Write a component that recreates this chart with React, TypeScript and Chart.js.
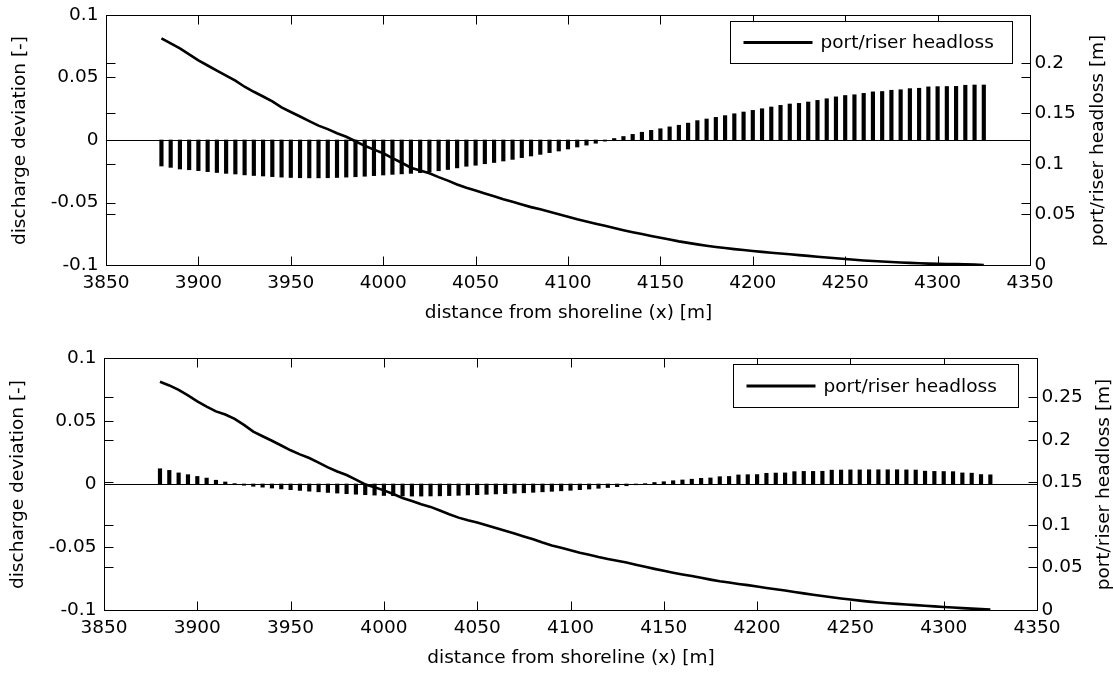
import React, { useEffect, useRef } from "react";
import { Chart, registerables } from "chart.js";

Chart.register(...registerables);

// ---------- data ----------
const portX = [
  3880, 3885, 3890, 3895, 3900, 3905, 3910, 3915, 3920, 3925,
  3930, 3935, 3940, 3945, 3950, 3955, 3960, 3965, 3970, 3975,
  3980, 3985, 3990, 3995, 4000, 4005, 4010, 4015, 4020, 4025,
  4030, 4035, 4040, 4045, 4050, 4055, 4060, 4065, 4070, 4075,
  4080, 4085, 4090, 4095, 4100, 4105, 4110, 4115, 4120, 4125,
  4130, 4135, 4140, 4145, 4150, 4155, 4160, 4165, 4170, 4175,
  4180, 4185, 4190, 4195, 4200, 4205, 4210, 4215, 4220, 4225,
  4230, 4235, 4240, 4245, 4250, 4255, 4260, 4265, 4270, 4275,
  4280, 4285, 4290, 4295, 4300, 4305, 4310, 4315, 4320, 4325,
];

const deviationTop = [
  -0.0208, -0.0219, -0.0232, -0.0238, -0.0245, -0.0253, -0.026, -0.0267, -0.0272, -0.0279,
  -0.0284, -0.0288, -0.0293, -0.0297, -0.03, -0.0302, -0.0303, -0.0303, -0.0302, -0.03,
  -0.0297, -0.0294, -0.029, -0.0285, -0.028, -0.0275, -0.0271, -0.0267, -0.0261, -0.0255,
  -0.0246, -0.0236, -0.0223, -0.021, -0.0202, -0.019, -0.018, -0.0168, -0.0155, -0.0141,
  -0.0128, -0.0115, -0.0101, -0.0088, -0.0072, -0.0056, -0.0041, -0.0026, -0.0009, 0.0012,
  0.0028, 0.0045, 0.0062, 0.0077, 0.009, 0.0105, 0.0118, 0.0135, 0.0155, 0.0168,
  0.0181, 0.0195, 0.021, 0.0224, 0.0237, 0.025, 0.0264, 0.0277, 0.0288, 0.0293,
  0.0304, 0.0317, 0.033, 0.0345, 0.0356, 0.0362, 0.0373, 0.0385, 0.0388, 0.0398,
  0.0402, 0.0411, 0.0414, 0.0425, 0.0427, 0.0428, 0.0429, 0.0438, 0.044, 0.044,
];

const headlossTop = [
  0.2244, 0.2195, 0.2145, 0.2085, 0.2025, 0.1975, 0.1925, 0.1875, 0.1825, 0.1765,
  0.1715, 0.1668, 0.162, 0.156, 0.1515, 0.147, 0.1425, 0.138, 0.1345, 0.1305,
  0.127, 0.1225, 0.118, 0.1142, 0.1106, 0.1058, 0.1012, 0.0963, 0.0935, 0.0908,
  0.087, 0.0835, 0.0797, 0.0765, 0.0737, 0.0708, 0.068, 0.0652, 0.0627, 0.06,
  0.0573, 0.0551, 0.0527, 0.0503, 0.0478, 0.0452, 0.043, 0.0408, 0.0388, 0.0367,
  0.0345, 0.0325, 0.0306, 0.0288, 0.027, 0.0252, 0.0234, 0.0219, 0.0204, 0.0191,
  0.0179, 0.0168, 0.0157, 0.0148, 0.0139, 0.013, 0.0122, 0.0114, 0.0106, 0.0098,
  0.009, 0.0082, 0.0075, 0.0067, 0.006, 0.0052, 0.0045, 0.0039, 0.0034, 0.0029,
  0.0025, 0.0021, 0.0017, 0.0014, 0.0012, 0.001, 0.0009, 0.0007, 0.0005, 0.0,
];

const deviationBottom = [
  0.0121, 0.0108, 0.0088, 0.0074, 0.006, 0.0047, 0.003, 0.0016, 0.0003, -0.001,
  -0.0018, -0.0025, -0.0032, -0.0039, -0.0045, -0.0051, -0.0057, -0.0062, -0.0067, -0.0072,
  -0.0077, -0.0081, -0.0085, -0.0088, -0.0091, -0.0093, -0.0095, -0.0096, -0.0096, -0.0095,
  -0.0094, -0.0092, -0.009, -0.0087, -0.0085, -0.0082, -0.0079, -0.0076, -0.0073, -0.007,
  -0.0066, -0.0062, -0.0058, -0.0054, -0.005, -0.0045, -0.004, -0.0034, -0.0028, -0.0021,
  -0.0014, -0.0006, 0.0003, 0.0012, 0.0018, 0.0026, 0.0032, 0.0038, 0.0045, 0.0048,
  0.0058, 0.006, 0.0072, 0.0074, 0.0075, 0.0085, 0.0087, 0.0088, 0.0098, 0.01,
  0.01, 0.0101, 0.011, 0.0111, 0.0112, 0.0112, 0.0113, 0.0113, 0.0113, 0.0113,
  0.0112, 0.0111, 0.0102, 0.01, 0.0099, 0.0098, 0.0088, 0.0086, 0.0075, 0.0073,
];

const headlossBottom = [
  0.268, 0.2638, 0.2585, 0.252, 0.245, 0.2388, 0.2333, 0.2296, 0.2245, 0.2175,
  0.2096, 0.2041, 0.1988, 0.1932, 0.1876, 0.1828, 0.1785, 0.1732, 0.1676, 0.1627,
  0.1586, 0.1532, 0.1475, 0.1442, 0.1405, 0.1362, 0.1315, 0.128, 0.1242, 0.1211,
  0.1168, 0.1125, 0.1085, 0.1053, 0.1027, 0.0995, 0.0963, 0.093, 0.0898, 0.0864,
  0.083, 0.0792, 0.0757, 0.073, 0.0703, 0.0673, 0.0648, 0.0622, 0.06, 0.0578,
  0.0557, 0.0532, 0.0507, 0.0483, 0.046, 0.0438, 0.0418, 0.04, 0.0378, 0.0357,
  0.0338, 0.0322, 0.0306, 0.0292, 0.0275, 0.0259, 0.0244, 0.0229, 0.0212, 0.0195,
  0.0179, 0.0164, 0.015, 0.0136, 0.0123, 0.011, 0.0098, 0.0088, 0.008, 0.0072,
  0.0064, 0.0057, 0.005, 0.0043, 0.0036, 0.0029, 0.0022, 0.0016, 0.001, 0.0005,
];

const xTicks = [3850, 3900, 3950, 4000, 4050, 4100, 4150, 4200, 4250, 4300, 4350];
const leftTicks = [-0.1, -0.05, 0, 0.05, 0.1];
const rightTicksTop = [0, 0.05, 0.1, 0.15, 0.2];
const rightTicksBottom = [0, 0.05, 0.1, 0.15, 0.2, 0.25];

const xTitle = "distance from shoreline (x) [m]";
const leftTitle = "discharge deviation [-]";
const rightTitle = "port/riser headloss [m]";
const legendLabel = "port/riser headloss";

const FONT = '18.5px "DejaVu Sans"';

type PanelCfg = {
  top: number;
  height: number;
  pad: { left: number; right: number; top: number; bottom: number };
  y2Max: number;
  deviation: number[];
  headloss: number[];
  rightTicks: number[];
  leftTitleX: number;
  rightTitleX: number;
  legend: { dx: number; dy: number; w: number; h: number };
};

function makePlugin(cfg: PanelCfg) {
  return {
    id: "matlabAxes",
    afterDatasetsDraw(chart: any) {
      const { ctx, chartArea: a, scales } = chart;
      const xs = scales.x;
      const yl = scales.y;
      const yr = scales.y2;
      const L = Math.round(a.left) + 0.5;
      const R = Math.round(a.right) + 0.5;
      const T = Math.round(a.top) + 0.5;
      const B = Math.round(a.bottom) + 0.5;
      const tl = 9;
      ctx.save();
      ctx.strokeStyle = "#000";
      ctx.lineWidth = 1;
      // zero baseline
      const z = Math.round(yl.getPixelForValue(0)) + 0.5;
      ctx.beginPath();
      ctx.moveTo(L, z);
      ctx.lineTo(R, z);
      ctx.stroke();
      // box
      ctx.strokeRect(L, T, R - L, B - T);
      // ticks
      ctx.beginPath();
      for (const v of xTicks) {
        const px = Math.round(xs.getPixelForValue(v)) + 0.5;
        ctx.moveTo(px, B);
        ctx.lineTo(px, B - tl);
        ctx.moveTo(px, T);
        ctx.lineTo(px, T + tl);
      }
      for (const v of leftTicks) {
        const py = Math.round(yl.getPixelForValue(v)) + 0.5;
        ctx.moveTo(L, py);
        ctx.lineTo(L + tl, py);
        ctx.moveTo(R, py);
        ctx.lineTo(R - tl, py);
      }
      for (const v of cfg.rightTicks) {
        const py = Math.round(yr.getPixelForValue(v)) + 0.5;
        ctx.moveTo(L, py);
        ctx.lineTo(L + tl, py);
        ctx.moveTo(R, py);
        ctx.lineTo(R - tl, py);
      }
      ctx.stroke();

      // tick labels
      ctx.fillStyle = "#000";
      ctx.font = FONT;
      ctx.textBaseline = "middle";
      ctx.textAlign = "center";
      for (const v of xTicks) {
        ctx.fillText(String(v), xs.getPixelForValue(v), B + 18);
      }
      ctx.textAlign = "right";
      for (const v of leftTicks) {
        ctx.fillText(String(v), L - 8, yl.getPixelForValue(v));
      }
      ctx.textAlign = "left";
      for (const v of cfg.rightTicks) {
        ctx.fillText(String(v), R + 4, yr.getPixelForValue(v));
      }
      // axis titles
      ctx.textAlign = "center";
      ctx.fillText(xTitle, (L + R) / 2, B + 48);
      const midY = (T + B) / 2;
      ctx.save();
      ctx.translate(cfg.leftTitleX, midY);
      ctx.rotate(-Math.PI / 2);
      ctx.fillText(leftTitle, 0, 0);
      ctx.restore();
      ctx.save();
      ctx.translate(cfg.rightTitleX, midY);
      ctx.rotate(-Math.PI / 2);
      ctx.fillText(rightTitle, 0, 0);
      ctx.restore();

      // legend
      const lg = cfg.legend;
      const bx = Math.round(R - lg.dx - lg.w) + 0.5;
      const by = Math.round(T + lg.dy) + 0.5;
      ctx.fillStyle = "#fff";
      ctx.fillRect(bx, by, lg.w, lg.h);
      ctx.strokeStyle = "#000";
      ctx.lineWidth = 1;
      ctx.strokeRect(bx, by, lg.w, lg.h);
      const cy = by + lg.h / 2;
      ctx.lineWidth = 3;
      ctx.beginPath();
      ctx.moveTo(bx + 13, cy);
      ctx.lineTo(bx + 82, cy);
      ctx.stroke();
      ctx.fillStyle = "#000";
      ctx.textAlign = "left";
      ctx.fillText(legendLabel, bx + 90, cy + 1);
      ctx.restore();
    },
  };
}

function Panel({ cfg }: { cfg: PanelCfg }) {
  const ref = useRef<HTMLCanvasElement | null>(null);
  useEffect(() => {
    if (!ref.current) return;
    const chart = new Chart(ref.current, {
      type: "bar",
      data: {
        datasets: [
          {
            type: "line",
            label: legendLabel,
            data: portX.map((x, i) => ({ x, y: cfg.headloss[i] })),
            yAxisID: "y2",
            borderColor: "#000",
            borderWidth: 2.6,
            pointRadius: 0,
            fill: false,
            tension: 0,
            order: 1,
          } as any,
          {
            type: "bar",
            label: "discharge deviation",
            data: portX.map((x, i) => ({ x, y: cfg.deviation[i] })),
            yAxisID: "y",
            backgroundColor: "#000",
            borderWidth: 0,
            barThickness: 3.5,
            order: 2,
          } as any,
        ],
      },
      options: {
        responsive: false,
        maintainAspectRatio: false,
        animation: false,
        events: [],
        layout: { padding: cfg.pad },
        scales: {
          x: { type: "linear", min: 3850, max: 4350, offset: false, display: false },
          y: { type: "linear", min: -0.1, max: 0.1, display: false },
          y2: { type: "linear", min: 0, max: cfg.y2Max, display: false, position: "right" },
        },
        plugins: {
          legend: { display: false },
          tooltip: { enabled: false },
        },
      } as any,
      plugins: [makePlugin(cfg)],
    });
    return () => chart.destroy();
  }, [cfg]);
  return (
    <canvas
      ref={ref}
      width={1114}
      height={cfg.height}
      style={{ position: "absolute", left: 0, top: cfg.top, width: 1114, height: cfg.height }}
    />
  );
}

const topCfg: PanelCfg = {
  top: 0,
  height: 330,
  pad: { left: 106, right: 1114 - 1030, top: 15, bottom: 330 - 265 },
  y2Max: 0.2475,
  deviation: deviationTop,
  headloss: headlossTop,
  rightTicks: rightTicksTop,
  leftTitleX: 20,
  rightTitleX: 1098,
  legend: { dx: 19, dy: 5, w: 282, h: 42 },
};

const bottomCfg: PanelCfg = {
  top: 330,
  height: 345,
  pad: { left: 104, right: 1114 - 1037, top: 28, bottom: 345 - 280 },
  y2Max: 0.296,
  deviation: deviationBottom,
  headloss: headlossBottom,
  rightTicks: rightTicksBottom,
  leftTitleX: 18,
  rightTitleX: 1104,
  legend: { dx: 20, dy: 5, w: 285, h: 43 },
};

export default function App() {
  return (
    <div
      style={{
        position: "fixed",
        left: 0,
        top: 0,
        width: 1114,
        height: 675,
        background: "#fff",
        overflow: "hidden",
      }}
    >
      <Panel cfg={topCfg} />
      <Panel cfg={bottomCfg} />
    </div>
  );
}
